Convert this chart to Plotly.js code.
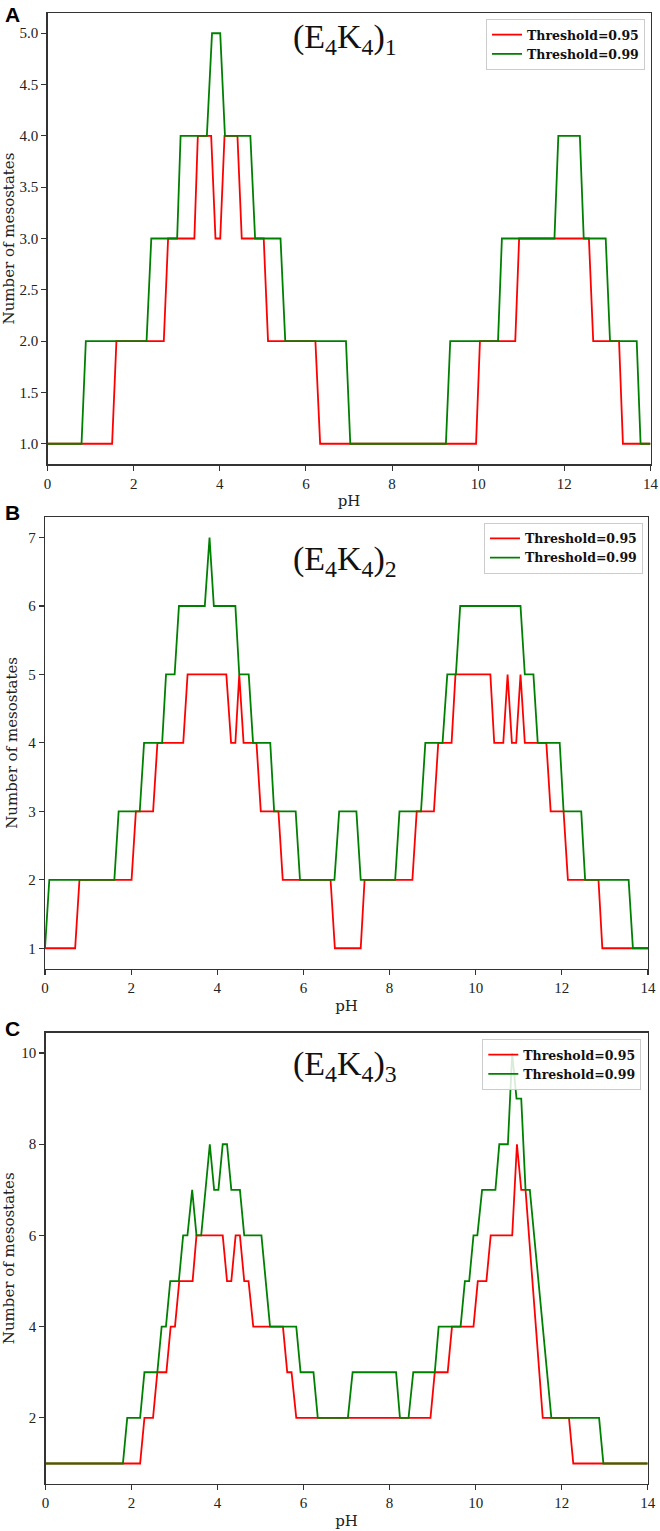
<!DOCTYPE html>
<html>
<head>
<meta charset="utf-8">
<script src="https://cdn.plot.ly/plotly-3.0.1.min.js"></script>
<style>html,body{margin:0;padding:0;background:#fff;}#chart{width:660px;height:1531px;}</style>
</head>
<body>
<div id="chart"></div>
<script>
// ---------- data ----------
const seriesNames = ["Threshold=0.95", "Threshold=0.99"];
const panelLabels = ["A", "B", "C"];
const panelTitles = ["(E<sub>4</sub>K<sub>4</sub>)<sub>1</sub>", "(E<sub>4</sub>K<sub>4</sub>)<sub>2</sub>", "(E<sub>4</sub>K<sub>4</sub>)<sub>3</sub>"];
const xTickVals = [0, 2, 4, 6, 8, 10, 12, 14];
const yTickValsA = [1.0, 1.5, 2.0, 2.5, 3.0, 3.5, 4.0, 4.5, 5.0];
const yTickValsB = [1, 2, 3, 4, 5, 6, 7];
const yTickValsC = [2, 4, 6, 8, 10];

// Panel A
const pHA_red   = [0, 1.50, 1.60, 2.70, 2.80, 3.41, 3.49, 3.80, 3.90, 4.01, 4.11, 4.41, 4.51, 5.02, 5.12, 6.22, 6.33, 9.95, 10.04, 10.86, 10.95, 12.57, 12.67, 13.27, 13.36, 14];
const nA_red    = [1, 1, 2, 2, 3, 3, 4, 4, 3, 3, 4, 4, 3, 3, 2, 2, 1, 1, 2, 2, 3, 3, 2, 2, 1, 1];
const pHA_green = [0, 0.79, 0.89, 2.30, 2.41, 3.01, 3.09, 3.70, 3.82, 4.01, 4.12, 4.71, 4.82, 5.41, 5.52, 6.93, 7.03, 9.25, 9.35, 10.46, 10.55, 11.77, 11.86, 12.36, 12.45, 12.96, 13.06, 13.68, 13.77, 14];
const nA_green  = [1, 1, 2, 2, 3, 3, 4, 4, 5, 5, 4, 4, 3, 3, 2, 2, 1, 1, 2, 2, 3, 3, 4, 4, 3, 3, 2, 2, 1, 1];

// Panel B
const pHB_red   = [0, 0.70, 0.80, 2.01, 2.11, 2.51, 2.61, 3.21, 3.31, 4.21, 4.32, 4.42, 4.51, 4.61, 4.91, 5.01, 5.42, 5.52, 6.63, 6.73, 7.33, 7.42, 8.53, 8.63, 9.03, 9.13, 9.44, 9.53, 10.34, 10.43, 10.64, 10.74, 10.84, 10.94, 11.04, 11.14, 11.64, 11.74, 12.04, 12.14, 12.85, 12.94, 14];
const nB_red    = [1, 1, 2, 2, 3, 3, 4, 4, 5, 5, 4, 4, 5, 4, 4, 3, 3, 2, 2, 1, 1, 2, 2, 3, 3, 4, 4, 5, 5, 4, 4, 5, 4, 4, 5, 4, 4, 3, 3, 2, 2, 1, 1];
const pHB_green = [0, 0.10, 1.61, 1.71, 2.20, 2.30, 2.72, 2.81, 3.01, 3.11, 3.71, 3.82, 3.92, 4.42, 4.51, 4.73, 4.83, 5.23, 5.32, 5.82, 5.92, 6.72, 6.83, 7.23, 7.33, 8.13, 8.23, 8.73, 8.83, 9.23, 9.34, 9.54, 9.64, 11.04, 11.14, 11.34, 11.44, 11.95, 12.04, 12.45, 12.54, 13.55, 13.65, 14];
const nB_green  = [1, 2, 2, 3, 3, 4, 4, 5, 5, 6, 6, 7, 6, 6, 5, 5, 4, 4, 3, 3, 2, 2, 3, 3, 2, 2, 3, 3, 4, 4, 5, 5, 6, 6, 5, 5, 4, 4, 3, 3, 2, 2, 1, 1];

// Panel C
const pHC_red   = [0, 2.20, 2.30, 2.50, 2.60, 2.81, 2.91, 3.01, 3.11, 3.42, 3.51, 4.12, 4.22, 4.32, 4.42, 4.52, 4.62, 4.72, 4.83, 5.52, 5.62, 5.72, 5.83, 8.95, 9.05, 9.35, 9.45, 9.95, 10.05, 10.25, 10.35, 10.85, 10.96, 11.06, 11.16, 11.56, 12.17, 12.27, 14];
const nC_red    = [1, 1, 2, 2, 3, 3, 4, 4, 5, 5, 6, 6, 5, 5, 6, 6, 5, 5, 4, 4, 3, 3, 2, 2, 3, 3, 4, 4, 5, 5, 6, 6, 8, 7, 7, 2, 2, 1, 1];
const pHC_green = [0, 1.80, 1.90, 2.20, 2.30, 2.60, 2.70, 2.80, 2.90, 3.10, 3.20, 3.30, 3.41, 3.51, 3.62, 3.82, 3.92, 4.02, 4.12, 4.22, 4.32, 4.52, 4.62, 5.02, 5.22, 5.83, 5.93, 6.23, 6.33, 7.03, 7.14, 8.15, 8.24, 8.44, 8.55, 9.05, 9.14, 9.65, 9.75, 9.85, 9.95, 10.04, 10.15, 10.46, 10.55, 10.75, 10.85, 10.95, 11.06, 11.16, 11.26, 11.76, 12.87, 12.97, 14];
const nC_green  = [1, 1, 2, 2, 3, 3, 4, 4, 5, 5, 6, 6, 7, 6, 6, 8, 7, 7, 8, 8, 7, 7, 6, 6, 4, 4, 3, 3, 2, 2, 3, 3, 2, 2, 3, 3, 4, 4, 5, 5, 6, 6, 7, 7, 8, 8, 10, 9, 9, 7, 7, 2, 2, 1, 1];

// ---------- styling ----------
const RED = "#ff0000", GREEN = "#008000";
const AXIS_COLOR = "#333333";
const W = 660, H = 1531;
// plot-area boxes in pixels [left, right, top, bottom]
const boxes = [
  [47.5, 650.5, 12.7, 464.3],
  [45.0, 648.0, 517.0, 968.8],
  [45.5, 647.7, 1032.5, 1484.0]
];
const yRanges = [[0.8, 5.2], [0.7, 7.3], [0.55, 10.45]];
const yTicks = [yTickValsA, yTickValsB, yTickValsC];
const yFormats = [".1f", "d", "d"];
const data = [
  [pHA_red, nA_red, pHA_green, nA_green],
  [pHB_red, nB_red, pHB_green, nB_green],
  [pHC_red, nC_red, pHC_green, nC_green]
];
const labelCenters = [15, 512, 1028];
const titleTops = [16, 538, 1043];
const legendRight = [645, 643, 641.3];
const legendTop = [19, 522.7, 1039];

const traces = [];
const layout = {
  width: W, height: H,
  margin: {l: 0, r: 0, t: 0, b: 0},
  paper_bgcolor: "#ffffff",
  plot_bgcolor: "#ffffff",
  showlegend: true,
  annotations: []
};

for (let i = 0; i < 3; i++) {
  const b = boxes[i];
  const sfx = i === 0 ? "" : String(i + 1);
  const legName = "legend" + sfx;
  const [xr, yr, xg, yg] = data[i];
  traces.push({x: xr, y: yr, type: "scatter", mode: "lines", name: seriesNames[0],
    line: {color: RED, width: 1.8}, xaxis: "x" + sfx, yaxis: "y" + sfx, legend: legName});
  traces.push({x: xg, y: yg, type: "scatter", mode: "lines", name: seriesNames[1],
    line: {color: GREEN, width: 1.8}, xaxis: "x" + sfx, yaxis: "y" + sfx, legend: legName});

  const common = {
    showline: true, mirror: true, linecolor: AXIS_COLOR, linewidth: 1.2,
    ticks: "outside", ticklen: 5, tickwidth: 1.1, tickcolor: AXIS_COLOR,
    showgrid: false, zeroline: false,
    tickfont: {family: "Liberation Serif, serif", size: 15, color: "#222"}
  };
  layout["xaxis" + sfx] = Object.assign({}, common, {
    domain: [b[0] / W, b[1] / W], anchor: "y" + sfx,
    range: [0, 14], tickvals: xTickVals, ticktext: xTickVals.map(String),
    title: {text: "pH", font: {family: "DejaVu Serif, serif", size: 15, color: "#222"}, standoff: 5}
  });
  layout["yaxis" + sfx] = Object.assign({}, common, {
    domain: [1 - b[3] / H, 1 - b[2] / H], anchor: "x" + sfx,
    range: yRanges[i], tickvals: yTicks[i], tickformat: yFormats[i],
    title: {text: "Number of mesostates", font: {family: "DejaVu Serif, serif", size: 15, color: "#222"}, standoff: 7}
  });
  layout[legName] = {
    x: legendRight[i] / W, xanchor: "right",
    y: 1 - legendTop[i] / H, yanchor: "top",
    bgcolor: "rgba(255,255,255,0.85)", bordercolor: "#cccccc", borderwidth: 1,
    font: {family: "DejaVu Serif, serif", size: 12.5, color: "#111", weight: "bold"},
    tracegroupgap: 0
  };
  layout.annotations.push({
    xref: "paper", yref: "paper", x: 3 / W, y: 1 - labelCenters[i] / H,
    xanchor: "left", yanchor: "middle", showarrow: false,
    text: "<b>" + panelLabels[i] + "</b>",
    font: {family: "Liberation Sans, Arial, sans-serif", size: 21, color: "#000"}
  });
  layout.annotations.push({
    xref: "paper", yref: "paper", x: 345 / W, y: 1 - titleTops[i] / H,
    xanchor: "center", yanchor: "top", showarrow: false,
    text: panelTitles[i],
    font: {family: "Liberation Serif, serif", size: 34, color: "#111"}
  });
}

Plotly.newPlot("chart", traces, layout, {staticPlot: true, displayModeBar: false});
</script>
</body>
</html>
